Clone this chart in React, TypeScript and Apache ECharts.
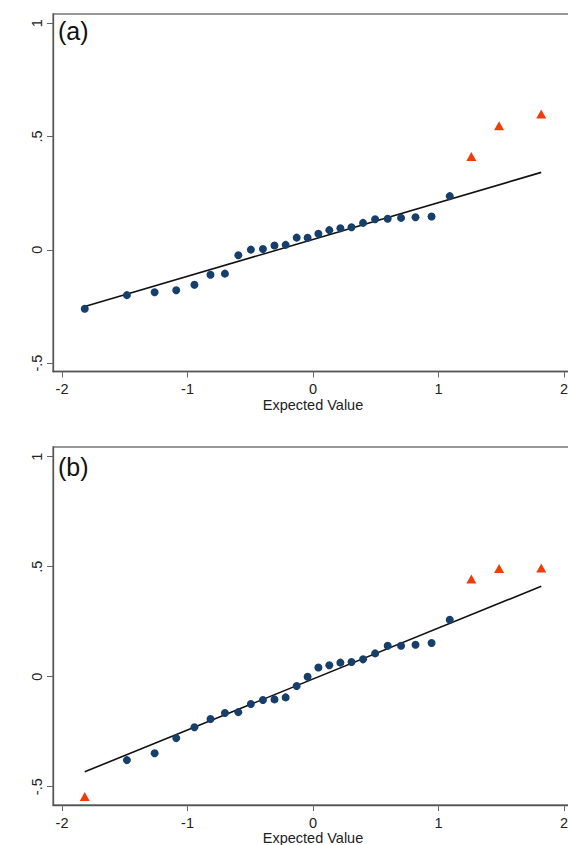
import React, { useEffect, useRef } from "react";
import * as echarts from "echarts";

// Expected normal values (shared by both panels)
const expectedValues = [
  -1.819, -1.483, -1.262, -1.09, -0.945, -0.817, -0.702, -0.595, -0.495, -0.399,
  -0.307, -0.218, -0.13, -0.043, 0.043, 0.13, 0.218, 0.307, 0.399, 0.495,
  0.595, 0.702, 0.817, 0.945, 1.09, 1.262, 1.483, 1.819,
];

// Panel (a) observed values
const observedA = [
  -0.26, -0.2, -0.187, -0.178, -0.154, -0.11, -0.105, -0.024, 0.001, 0.004,
  0.019, 0.022, 0.054, 0.053, 0.071, 0.087, 0.095, 0.1, 0.119, 0.135,
  0.137, 0.141, 0.144, 0.147, 0.237, 0.412, 0.548, 0.6,
];
const outliersA = [25, 26, 27];
const fitLineA = [
  [-1.819, -0.25],
  [1.819, 0.342],
];

// Panel (b) observed values
const observedB = [
  -0.544, -0.379, -0.348, -0.279, -0.23, -0.192, -0.165, -0.161, -0.124, -0.106,
  -0.103, -0.094, -0.042, 0.0, 0.042, 0.052, 0.064, 0.067, 0.079, 0.106,
  0.141, 0.141, 0.145, 0.153, 0.259, 0.444, 0.492, 0.494,
];
const outliersB = [0, 25, 26, 27];
const fitLineB = [
  [-1.819, -0.432],
  [1.819, 0.411],
];

const xTicks = [-2, -1, 0, 1, 2];
const yTicks = [-0.5, 0, 0.5, 1];
const panelLabels = ["(a)", "(b)"];
const xTitle = "Expected Value";

const FONT = "'Liberation Sans', Arial, sans-serif";
const BLUE = "#163f6b";
const ORANGE = "#ee3d0a";

function fmtY(v: number): string {
  if (Math.abs(v) < 1e-9) return "0";
  const s = String(v);
  return s.replace(/^(-?)0\./, "$1.");
}

export default function App() {
  const ref = useRef<HTMLDivElement>(null);
  useEffect(() => {
    if (!ref.current) return;
    const chart = echarts.init(ref.current, null, { renderer: "svg" });

    const grids = [
      { left: 53, top: 14, height: 357.5, width: 520 },
      { left: 53, top: 447, height: 358, width: 520 },
    ];
    const yRanges = [
      [-0.537, 1.041],
      [-0.583, 1.044],
    ];

    const xAxes = grids.map((_, i) => ({
      type: "value",
      gridIndex: i,
      min: -2.072,
      max: 2.072,
      name: xTitle,
      nameLocation: "middle",
      nameGap: 25,
      nameTextStyle: { fontFamily: FONT, fontSize: 14.5, color: "#222" },
      splitLine: { show: false },
      axisLine: { show: true, onZero: false, lineStyle: { color: "#555", width: 1.3 } },
      axisTick: {
        show: true,
        length: 6,
        customValues: xTicks,
        lineStyle: { color: "#666", width: 1 },
      },
      axisLabel: {
        customValues: xTicks,
        fontFamily: FONT,
        fontSize: 14.5,
        color: "#222",
        margin: 10,
        formatter: (v: number) => String(v),
      },
    }));

    const yAxes = grids.map((_, i) => ({
      type: "value",
      gridIndex: i,
      min: yRanges[i][0],
      max: yRanges[i][1],
      splitLine: { show: false },
      axisLine: { show: true, onZero: false, lineStyle: { color: "#555", width: 1.3 } },
      axisTick: {
        show: true,
        length: 6,
        customValues: yTicks,
        lineStyle: { color: "#666", width: 1 },
      },
      axisLabel: {
        customValues: yTicks,
        rotate: 90,
        fontFamily: FONT,
        fontSize: 14.5,
        color: "#222",
        margin: 9,
        formatter: (v: number) => fmtY(v),
      },
    }));

    const makeSeries = (
      i: number,
      obs: number[],
      outl: number[],
      line: number[][]
    ) => {
      const normal: number[][] = [];
      const out: number[][] = [];
      obs.forEach((y, k) => {
        const pt = [expectedValues[k], y];
        if (outl.includes(k)) out.push(pt);
        else normal.push(pt);
      });
      return [
        {
          type: "line",
          xAxisIndex: i,
          yAxisIndex: i,
          data: line,
          symbol: "none",
          lineStyle: { color: "#111", width: 1.6 },
          z: 2,
        },
        {
          type: "scatter",
          xAxisIndex: i,
          yAxisIndex: i,
          data: normal,
          symbol: "circle",
          symbolSize: 8,
          itemStyle: { color: BLUE, opacity: 1 },
          clip: false,
          z: 3,
        },
        {
          type: "scatter",
          xAxisIndex: i,
          yAxisIndex: i,
          data: out,
          symbol: "triangle",
          symbolSize: [10, 9],
          itemStyle: { color: ORANGE, opacity: 1 },
          clip: false,
          z: 3,
        },
      ];
    };

    chart.setOption({
      animation: false,
      backgroundColor: "#fff",
      grid: grids.map((g) => ({
        ...g,
        show: true,
        borderColor: "#777",
        borderWidth: 1.3,
        backgroundColor: "transparent",
        containLabel: false,
        outerBoundsMode: "none",
      })),
      xAxis: xAxes,
      yAxis: yAxes,
      series: [
        ...makeSeries(0, observedA, outliersA, fitLineA),
        ...makeSeries(1, observedB, outliersB, fitLineB),
      ],
      graphic: [
        {
          type: "text",
          left: 58,
          top: 18,
          style: { text: panelLabels[0], font: `25px ${FONT}`, fill: "#111" },
        },
        {
          type: "text",
          left: 58,
          top: 454,
          style: { text: panelLabels[1], font: `25px ${FONT}`, fill: "#111" },
        },
      ],
    });
    return () => chart.dispose();
  }, []);

  return (
    <div
      ref={ref}
      style={{ position: "fixed", left: 0, top: 0, width: 568, height: 845 }}
    />
  );
}
